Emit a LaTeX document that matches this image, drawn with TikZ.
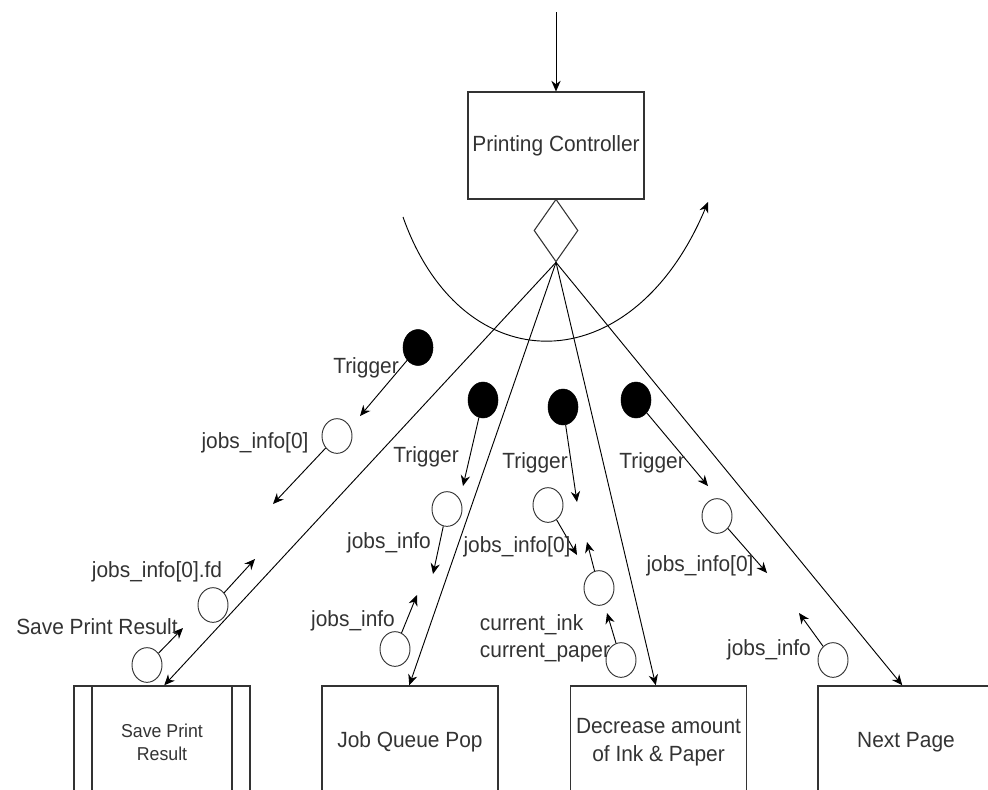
\documentclass[tikz,border=0pt]{standalone}
\usepackage{fontspec}
\setmainfont{Liberation Sans}[FakeStretch=0.95]
\usetikzlibrary{shapes.geometric,arrows.meta,calc}
\begin{document}
\begin{tikzpicture}[x=0.75pt,y=-0.75pt,
  lbl/.style={inner sep=0pt,text=black!80,font=\fontsize{16.5pt}{20pt}\selectfont},
  boxtext/.style={text=black!80,font=\fontsize{16.5pt}{21pt}\selectfont},
  procbox/.style={draw=black!80,line width=1.1pt,minimum width=132pt,minimum height=84pt,inner sep=0pt},
  dot/.style={ellipse,fill=black,draw=black,minimum width=22.5pt,minimum height=27pt,inner sep=0pt},
  odot/.style={ellipse,draw=black!80,line width=0.7pt,minimum width=22.5pt,minimum height=26pt,inner sep=0pt},
  arr/.style={-{Stealth[length=8pt,width=7pt]},line width=0.7pt},
  thin/.style={line width=0.7pt}]
\useasboundingbox (0,0) rectangle (988,789);
\clip (0,0) rectangle (988,789);

% Printing controller
\node[draw=black!80,line width=1.1pt,minimum width=132pt,minimum height=80pt,inner sep=0pt,boxtext] (pc) at (556,145.5) {Printing Controller};
\coordinate (top) at (556,12);
\draw[arr] (top) -- (pc.north);
\node[diamond,draw=black!80,line width=0.8pt,minimum width=33pt,minimum height=47pt,inner sep=0pt] (dm) at (556,230.5) {};

% arc
\coordinate (arcS) at (403,217);
\coordinate (arcE) at (708,202);
\draw[arr] (arcS) .. controls (462,384) and (632,384) .. (arcE);

% bottom boxes
\node[procbox] (b1) at (162,742) {};
\draw[line width=1.1pt,draw=black!80] (92,686) -- (92,798) (232,686) -- (232,798);
\node[text=black!80,font=\fontsize{14pt}{17pt}\selectfont,align=center] at (b1.center) {Save Print\\Result};
\node[procbox,boxtext] (b2) at (410,742) {Job Queue Pop};
\node[procbox,boxtext,align=center] (b3) at (658.5,742) {Decrease amount\\of Ink \& Paper};
\node[procbox,boxtext] (b4) at (906,742) {Next Page};

% fan
\draw[arr] (dm.south) -- ($(b1.north west)+(91,0)$);
\draw[arr] (dm.south) -- ($(b2.north west)+(88,0)$);
\draw[arr] (dm.south) -- ($(b3.north west)+(86,0)$);
\draw[arr] (dm.south) -- ($(b4.north west)+(85,0)$);

% group 1
\node[dot] (k1) at (418,347.5) {};
\coordinate (e11) at (360,416);
\draw[arr] (k1) -- (e11);
\node[lbl] (t1) at (366,368) {Trigger};
\node[odot] (o11) at (337,436) {};
\coordinate (e12) at (273,504);
\draw[arr] (o11) -- (e12);
\node[lbl] (l11) at (255,443) {jobs\_info[0]};
\node[odot] (o12) at (213,605) {};
\coordinate (e13) at (255,559);
\draw[arr] (o12) -- (e13);
\node[lbl] (l12) at (157,572) {jobs\_info[0].fd};
\node[odot] (o13) at (147,665) {};
\coordinate (e14) at (183,628);
\draw[arr] (o13) -- (e14);
\node[lbl] (l13) at (97,627) {Save Print Result};

% group 2
\node[dot] (k2) at (483,400) {};
\coordinate (e21) at (463,486);
\draw[arr] (k2) -- (e21);
\node[lbl] (t2) at (426,457) {Trigger};
\node[odot] (o21) at (447,509) {};
\coordinate (e22) at (433,574);
\draw[arr] (o21) -- (e22);
\node[lbl] (l21) at (389,543) {jobs\_info};
\node[odot] (o22) at (395,649) {};
\coordinate (e23) at (417,595);
\draw[arr] (o22) -- (e23);
\node[lbl] (l22) at (353,621) {jobs\_info};

% group 3
\node[dot] (k3) at (563,407) {};
\coordinate (e31) at (577,502);
\draw[arr] (k3) -- (e31);
\node[lbl] (t3) at (535,463) {Trigger};
\node[odot] (o31) at (548,505) {};
\coordinate (e32) at (577,555);
\draw[arr] (o31) -- (e32);
\node[lbl] (l31) at (517,547) {jobs\_info[0]};
\node[odot] (o32) at (599,588) {};
\coordinate (e33) at (587,542);
\draw[arr] (o32) -- (e33);
\node[odot] (o33) at (621,660) {};
\coordinate (e34) at (607,613);
\draw[arr] (o33) -- (e34);
\node[lbl,align=left,font=\fontsize{16.5pt}{20pt}\selectfont] (l32) at (545,638) {current\_ink\\current\_paper};

% group 4
\node[dot] (k4) at (636,400) {};
\coordinate (e41) at (708,486);
\draw[arr] (k4) -- (e41);
\node[lbl] (t4) at (652,463) {Trigger};
\node[odot] (o41) at (717,516) {};
\coordinate (e42) at (767,573);
\draw[arr] (o41) -- (e42);
\node[lbl] (l41) at (700,566) {jobs\_info[0]};
\node[odot] (o42) at (833,660) {};
\coordinate (e43) at (799,613);
\draw[arr] (o42) -- (e43);
\node[lbl] (l42) at (769,650) {jobs\_info};
\end{tikzpicture}
\end{document}
